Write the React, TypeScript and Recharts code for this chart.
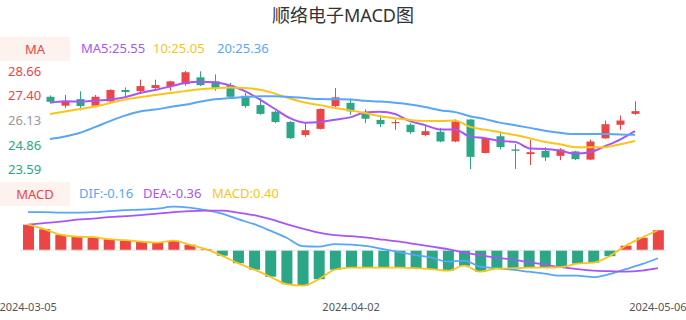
import React from 'react';
import { ComposedChart, Bar, Line, XAxis, YAxis, Cell, ReferenceLine } from 'recharts';

const dates = [
  '2024-03-05', '2024-03-06', '2024-03-07', '2024-03-08', '2024-03-11', '2024-03-12', '2024-03-13', '2024-03-14',
  '2024-03-15', '2024-03-18', '2024-03-19', '2024-03-20', '2024-03-21', '2024-03-22', '2024-03-25', '2024-03-26',
  '2024-03-27', '2024-03-28', '2024-03-29', '2024-04-01', '2024-04-02', '2024-04-03', '2024-04-08', '2024-04-09',
  '2024-04-10', '2024-04-11', '2024-04-12', '2024-04-15', '2024-04-16', '2024-04-17', '2024-04-18', '2024-04-19',
  '2024-04-22', '2024-04-23', '2024-04-24', '2024-04-25', '2024-04-26', '2024-04-29', '2024-04-30', '2024-05-06',
];

const opens = [
  27.32, 26.86, 27.2, 26.86, 27.08, 27.67, 27.61, 27.77, 27.86, 27.97,
  28.32, 28.11, 27.91, 27.37, 26.89, 26.55, 26.02, 25.35, 25.67, 26.84,
  27.01, 26.49, 26.13, 25.96, 25.88, 25.35, 25.52, 25.02, 26.15, 24.43,
  25.29, 24.61, 24.37, 24.54, 24.28, 24.51, 24.09, 25.18, 25.88, 26.44,
];
const closes = [
  27.06, 27.06, 26.84, 27.32, 27.67, 27.56, 27.87, 27.92, 28.11, 28.58,
  27.92, 27.78, 27.32, 26.84, 26.44, 26.02, 25.19, 25.6, 26.69, 27.29,
  26.57, 26.19, 25.91, 26.02, 25.5, 25.55, 25.02, 26.05, 24.23, 25.19,
  24.73, 24.54, 24.47, 24.2, 24.61, 24.11, 25.02, 25.91, 26.1, 26.58,
];
const highs = [
  27.39, 27.42, 27.6, 27.41, 27.7, 27.8, 28.2, 28.2, 28.14, 28.66,
  28.63, 28.47, 28.03, 27.53, 27.25, 26.6, 26.07, 26.02, 26.72, 27.77,
  27.23, 26.67, 26.36, 26.15, 25.96, 25.81, 25.72, 26.15, 26.17, 25.21,
  25.45, 24.88, 25.12, 24.73, 24.68, 24.54, 25.12, 26.1, 26.36, 27.08,
];
const lows = [
  27.01, 26.75, 26.62, 26.79, 27.06, 27.34, 27.47, 27.67, 27.63, 27.89,
  27.87, 27.63, 27.29, 26.75, 26.39, 25.96, 25.15, 25.26, 25.64, 26.79,
  26.39, 25.96, 25.76, 25.62, 25.41, 25.29, 24.98, 24.98, 23.59, 24.41,
  24.61, 23.6, 23.81, 24.02, 24.06, 24.06, 24.07, 25.16, 25.62, 26.39,
];

const ma5 = [
  27.01, 27.09, 27.07, 27.12, 27.18, 27.3, 27.51, 27.67, 27.85, 28.03,
  28.09, 28.07, 27.9, 27.61, 27.17, 26.69, 26.22, 25.99, 26.02, 26.14,
  26.26, 26.51, 26.55, 26.43, 26.07, 25.86, 25.64, 25.64, 25.27, 25.19,
  25.05, 25.0, 24.66, 24.64, 24.55, 24.4, 24.47, 24.78, 25.12, 25.55,
];
const ma10 = [
  26.43, 26.56, 26.69, 26.82, 27.0, 27.18, 27.29, 27.41, 27.51, 27.61,
  27.7, 27.76, 27.8, 27.77, 27.68, 27.48, 27.23, 27.02, 26.89, 26.74,
  26.62, 26.48, 26.32, 26.22, 26.13, 26.08, 26.07, 26.1, 25.77, 25.63,
  25.5, 25.35, 25.18, 24.99, 24.88, 24.73, 24.73, 24.73, 24.88, 25.05,
];
const ma20 = [
  25.15, 25.28, 25.47, 25.76, 26.07, 26.35, 26.56, 26.66, 26.79, 26.91,
  27.06, 27.19, 27.25, 27.31, 27.34, 27.34, 27.31, 27.25, 27.2, 27.19,
  27.18, 27.11, 27.07, 27.01, 26.92, 26.79, 26.63, 26.53, 26.32, 26.17,
  25.99, 25.86, 25.72, 25.57, 25.47, 25.4, 25.4, 25.4, 25.38, 25.36,
];

const dif = [
  0.76, 0.76, 0.75, 0.75, 0.76, 0.78, 0.8, 0.81, 0.83, 0.87,
  0.85, 0.8, 0.73, 0.62, 0.52, 0.39, 0.25, 0.08, 0.07, 0.12,
  0.11, 0.08, 0.02, -0.04, -0.1, -0.15, -0.23, -0.21, -0.33, -0.36,
  -0.39, -0.43, -0.47, -0.51, -0.51, -0.54, -0.48, -0.38, -0.28, -0.16,
];
const dea = [
  0.51, 0.54, 0.57, 0.61, 0.63, 0.66, 0.68, 0.7, 0.73, 0.76,
  0.78, 0.79, 0.79, 0.75, 0.7, 0.62, 0.52, 0.43, 0.35, 0.3,
  0.28, 0.25, 0.21, 0.17, 0.12, 0.07, 0.02, -0.05, -0.1, -0.15,
  -0.19, -0.24, -0.29, -0.34, -0.38, -0.41, -0.42, -0.43, -0.41, -0.36,
];
const macd = [
  0.51, 0.42, 0.31, 0.27, 0.26, 0.22, 0.2, 0.17, 0.15, 0.19,
  0.11, 0.02, -0.11, -0.26, -0.39, -0.53, -0.68, -0.71, -0.58, -0.39,
  -0.35, -0.35, -0.35, -0.35, -0.36, -0.38, -0.41, -0.31, -0.43, -0.37,
  -0.36, -0.35, -0.35, -0.34, -0.27, -0.25, -0.12, 0.09, 0.25, 0.4,
];

const priceTicks = [28.66, 27.4, 26.13, 24.86, 23.59];
const priceTickLabels = ['28.66', '27.40', '26.13', '24.86', '23.59'];
const xTicks = [dates[0], dates[20], dates[39]];

const RED = '#eb4545';
const GREEN = '#2ba687';
const PURPLE = '#a855f7';
const YELLOW = '#fcc419';
const BLUE = '#58a6f8';
const FONT = '"Noto Sans", "Noto Sans CJK SC", sans-serif';

const kData = dates.map((date, i) => ({
  date,
  open: opens[i],
  close: closes[i],
  high: highs[i],
  low: lows[i],
  ma5: ma5[i],
  ma10: ma10[i],
  ma20: ma20[i],
}));

const mData = dates.map((date, i) => ({ date, dif: dif[i], dea: dea[i], macd: macd[i] }));

const Candle = (props: any) => {
  const { x, y, width, height, payload } = props;
  if (!payload || x == null) return null;
  const { open, close, high, low } = payload;
  const top = Math.min(y, y + height);
  const h = Math.abs(height);
  const toPx = (v: number) => top + ((high - v) / (high - low)) * h;
  const color = close >= open ? RED : GREEN;
  const bTop = toPx(Math.max(open, close));
  const bBot = toPx(Math.min(open, close));
  const cx = x + width / 2;
  return (
    <g>
      <line x1={cx} x2={cx} y1={top} y2={top + h} stroke={color} strokeWidth={1} />
      <rect x={x} y={bTop} width={width} height={Math.max(bBot - bTop, 1)} fill={color} />
    </g>
  );
};

const PriceTick = (props: any) => {
  const { y, payload } = props;
  const v = payload.value;
  const idx = priceTicks.indexOf(v);
  const color = v > 26.13 ? RED : v < 26.13 ? GREEN : '#999999';
  return (
    <text x={8} y={y} dominantBaseline="central" textAnchor="start" fill={color} fontSize={13} fontFamily={FONT}>
      {idx >= 0 ? priceTickLabels[idx] : v}
    </text>
  );
};

const DateTick = (props: any) => {
  const { x, y, payload } = props;
  return (
    <text x={x} y={y + 17} textAnchor="middle" fill="#555" fontSize={11} fontFamily={FONT}>
      {payload.value}
    </text>
  );
};

const boxStyle: React.CSSProperties = {
  position: 'absolute',
  left: 0,
  width: 70,
  height: 24,
  lineHeight: '24px',
  background: '#fef2ee',
  color: RED,
  textAlign: 'center',
  fontSize: 13,
};

const lg = (left: number, top: number, color: string): React.CSSProperties => ({
  position: 'absolute',
  left,
  top,
  height: 24,
  lineHeight: '24px',
  fontSize: 13,
  color,
  whiteSpace: 'nowrap',
});

export default function App() {
  return (
    <div style={{ position: 'absolute', left: 0, top: 0, width: 686, height: 320, background: '#fff', fontFamily: FONT, overflow: 'hidden' }}>
      <div style={{ position: 'absolute', left: 0, top: 0, width: 686, height: 30, lineHeight: '30px', textAlign: 'center', fontSize: 18, color: '#333' }}>
        顺络电子MACD图
      </div>

      <div style={{ ...boxStyle, top: 37 }}>MA</div>
      <div style={lg(81, 36, PURPLE)}>MA5:25.55</div>
      <div style={lg(153, 36, YELLOW)}>10:25.05</div>
      <div style={lg(217, 36, BLUE)}>20:25.36</div>

      <div style={{ ...boxStyle, top: 182 }}>MACD</div>
      <div style={lg(79, 181, BLUE)}>DIF:-0.16</div>
      <div style={lg(143, 181, PURPLE)}>DEA:-0.36</div>
      <div style={lg(212, 181, YELLOW)}>MACD:0.40</div>

      <div style={{ position: 'absolute', left: 0, top: 0 }}>
        <ComposedChart width={686} height={180} data={kData} margin={{ top: 70.7, right: 43.5, bottom: 10.7, left: 0 }}>
          <XAxis dataKey="date" hide />
          <YAxis
            width={42.5}
            domain={[23.59, 28.66]}
            ticks={priceTicks}
            axisLine={false}
            tickLine={false}
            tick={<PriceTick />}
            allowDataOverflow
          />
          <Bar dataKey={(d: any) => [d.low, d.high]} barSize={8} shape={<Candle />} isAnimationActive={false} />
          <Line type="monotone" dataKey="ma5" stroke={PURPLE} strokeWidth={2} dot={false} isAnimationActive={false} />
          <Line type="monotone" dataKey="ma10" stroke={YELLOW} strokeWidth={2} dot={false} isAnimationActive={false} />
          <Line type="monotone" dataKey="ma20" stroke={BLUE} strokeWidth={2} dot={false} isAnimationActive={false} />
        </ComposedChart>
      </div>

      <div style={{ position: 'absolute', left: 0, top: 175 }}>
        <ComposedChart width={686} height={145} data={mData} margin={{ top: 31.7, right: 20, bottom: 4.3, left: 20 }}>
          <XAxis
            dataKey="date"
            ticks={xTicks}
            interval={0}
            axisLine={false}
            tickLine={false}
            height={30}
            tick={<DateTick />}
          />
          <YAxis hide domain={['dataMin', 'dataMax']} />
          <ReferenceLine y={0} stroke="#e4e4e4" strokeWidth={1} />
          <Bar dataKey="macd" barSize={11} isAnimationActive={false}>
            {mData.map((d, i) => (
              <Cell key={i} fill={d.macd >= 0 ? RED : GREEN} />
            ))}
          </Bar>
          <Line type="monotone" dataKey="dif" stroke={BLUE} strokeWidth={1.8} dot={false} isAnimationActive={false} />
          <Line type="monotone" dataKey="dea" stroke={PURPLE} strokeWidth={1.8} dot={false} isAnimationActive={false} />
          <Line type="monotone" dataKey="macd" stroke={YELLOW} strokeWidth={1.8} dot={false} isAnimationActive={false} />
        </ComposedChart>
      </div>
    </div>
  );
}
